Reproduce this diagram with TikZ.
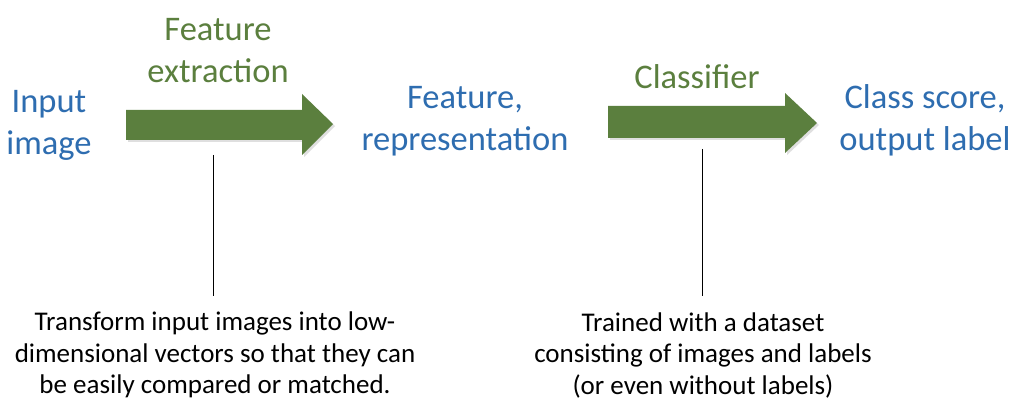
\documentclass[tikz,border=0pt]{standalone}
\usepackage{fontspec}
\setmainfont{Carlito}
\definecolor{arrowgreen}{HTML}{5B7F3E}
\definecolor{txtblue}{HTML}{2E6DB0}
\definecolor{txtgreen}{HTML}{5B7F3E}
\begin{document}
\begin{tikzpicture}[x=1pt,y=-1pt,
  bigarrow/.style={fill=arrowgreen,draw=none},
  bluetxt/.style={text=txtblue,font=\fontsize{34.5}{42}\selectfont,align=center,inner sep=0pt},
  greentxt/.style={text=txtgreen,font=\fontsize{34.5}{42}\selectfont,align=center,inner sep=0pt},
  note/.style={text=black,font=\fontsize{27}{31.5}\selectfont,align=center,inner sep=0pt},
  leader/.style={draw=black,line width=0.8pt}]
\useasboundingbox (0,0) rectangle (1010,414);
\begin{scope}
\clip (0,0) rectangle (1010,414);
% arrows
\fill[black!25,opacity=0.5] (128,112) -- (304,112) -- (304,96) -- (335,126) -- (304,157) -- (304,142) -- (128,142) -- cycle;
\path[bigarrow] (126,110) -- (302,110) -- (302,94) -- (333,124) -- (302,155) -- (302,140) -- (126,140) -- cycle;
\fill[black!25,opacity=0.5] (610,108) -- (787,108) -- (787,95) -- (819,125) -- (787,155) -- (787,140) -- (610,140) -- cycle;
\path[bigarrow] (608,106) -- (785,106) -- (785,93) -- (817,123) -- (785,153) -- (785,138) -- (608,138) -- cycle;
% texts
\node[bluetxt] (input) at (49,125) {Input\\image};
\node[greentxt] (fe) at (218,51) {Feature\\extraction};
\node[bluetxt] (feat) at (465,121) {Feature,\\representation};
\node[greentxt] (cls) at (697,77) {Classifier};
\node[bluetxt] (out) at (925,120) {Class score,\\output label};
\node[note] (n1) at (215,355) {Transform input images into low-\\dimensional vectors so that they can\\be easily compared or matched.};
\node[note] (n2) at (703,355) {Trained with a dataset\\consisting of images and labels\\(or even without labels)};
\coordinate (l1top) at (213,155);
\coordinate (l2top) at (702,149);
\draw[leader] (l1top) -- (l1top |- 0,296);
\draw[leader] (l2top) -- (l2top |- 0,296);
\end{scope}
\end{tikzpicture}
\end{document}
